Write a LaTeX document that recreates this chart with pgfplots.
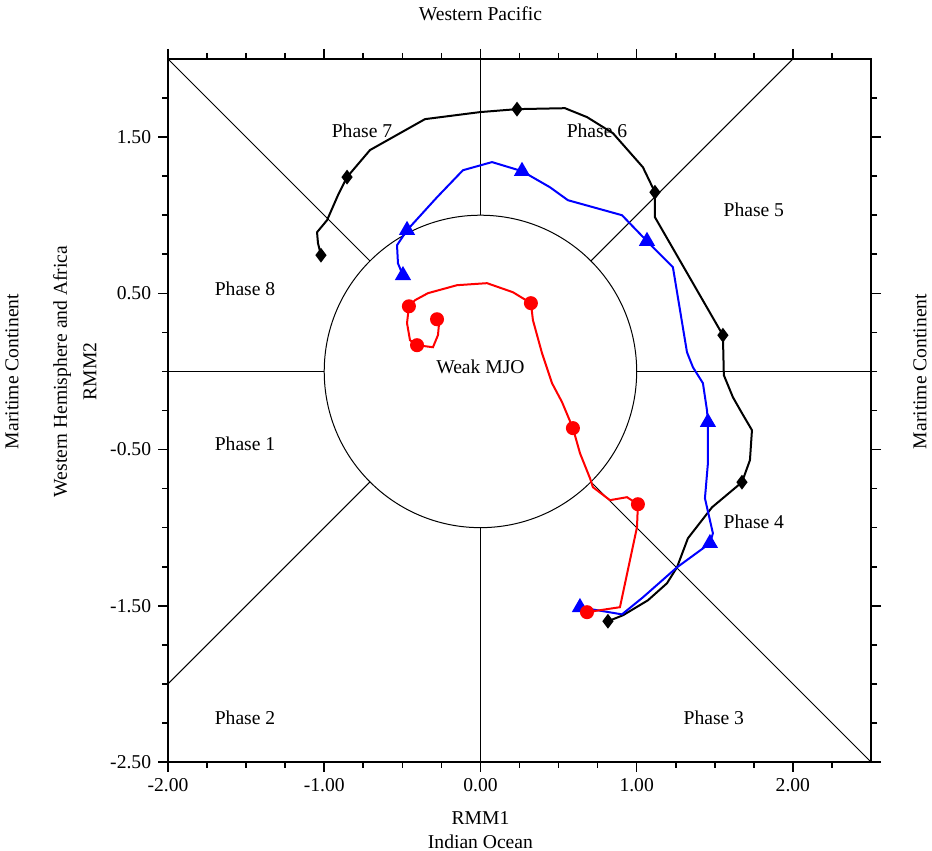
\documentclass[border=0pt]{standalone}
\usepackage{fontspec}
\setmainfont{Liberation Serif}
\usepackage{pgfplots}
\pgfplotsset{compat=1.18}
\begin{document}
\fontsize{9.8pt}{11.8pt}\selectfont
\begin{tikzpicture}
\begin{axis}[
  scale only axis, width=351.5pt, height=351.5pt,
  xmin=-2, xmax=2.5, ymin=-2.5, ymax=2,
  clip=false,
  axis line style={line width=0.8pt},
  tick align=outside,
  major tick length=5pt, minor tick length=3pt,
  every tick/.style={black, line width=0.8pt},
  xtick={-2,-1,0,1,2}, xticklabels={-2.00,-1.00,0.00,1.00,2.00},
  ytick={-2.5,-1.5,-0.5,0.5,1.5}, yticklabels={-2.50,-1.50,-0.50,0.50,1.50},
  minor xtick={-1.75,-1.5,-1.25,-0.75,-0.5,-0.25,0.25,0.5,0.75,1.25,1.5,1.75,2.25},
  minor ytick={-2.25,-2,-1.75,-1.25,-1,-0.75,-0.25,0,0.25,0.75,1,1.25,1.75},
  tick label style={font=\fontsize{9.8pt}{11.8pt}\selectfont},
]
% phase structure
\draw[line width=0.5pt] (axis cs:0,0) circle [radius=1];
\draw[line width=0.5pt] (axis cs:-2,0) -- (axis cs:-1,0);
\draw[line width=0.5pt] (axis cs:1,0) -- (axis cs:2.5,0);
\draw[line width=0.5pt] (axis cs:0,1) -- (axis cs:0,2);
\draw[line width=0.5pt] (axis cs:0,-1) -- (axis cs:0,-2.5);
\draw[line width=0.5pt] (axis cs:-2,2) -- (axis cs:-0.7071,0.7071);
\draw[line width=0.5pt] (axis cs:2,2) -- (axis cs:0.7071,0.7071);
\draw[line width=0.5pt] (axis cs:-2,-2) -- (axis cs:-0.7071,-0.7071);
\draw[line width=0.5pt] (axis cs:0.7071,-0.7071) -- (axis cs:2.5,-2.5);
% phase labels
\node at (axis cs:-0.758,1.538) {Phase 7};
\node at (axis cs:0.746,1.538) {Phase 6};
\node at (axis cs:1.750,1.032) {Phase 5};
\node at (axis cs:-1.507,0.532) {Phase 8};
\node at (axis cs:-1.507,-0.466) {Phase 1};
\node at (axis cs:1.750,-0.96) {Phase 4};
\node at (axis cs:-1.507,-2.214) {Phase 2};
\node at (axis cs:1.494,-2.214) {Phase 3};
\node at (axis cs:0,0.03) {Weak MJO};
% outer labels
\node at ([yshift=22.5pt]axis cs:0,2) {Western Pacific};
\node at ([yshift=-28pt]axis cs:0,-2.5) {RMM1};
\node at ([yshift=-40pt]axis cs:0,-2.5) {Indian Ocean};
\node[rotate=90] at ([xshift=-39pt]axis cs:-2,0) {RMM2};
\node[rotate=90] at ([xshift=-53pt]axis cs:-2,0) {Western Hemisphere and Africa};
\node[rotate=90] at ([xshift=-78pt]axis cs:-2,0) {Maritime Continent};
\node[rotate=90] at ([xshift=24.5pt]axis cs:2.5,0) {Maritime Continent};
\coordinate (ll) at (axis cs:-2,-2.5);
\coordinate (ur) at (axis cs:2.5,2);
% black
\addplot[black, line width=1pt, mark=diamond*, mark size=2.9pt, mark indices={1,8,14,16,21,25,30}] coordinates {
(0.816,-1.599) (0.912,-1.561) (1.072,-1.465) (1.194,-1.356) (1.258,-1.254) (1.328,-1.068) (1.482,-0.870)
(1.674,-0.709) (1.725,-0.568) (1.738,-0.376) (1.674,-0.267) (1.616,-0.165) (1.558,-0.024)
(1.552,0.232) (1.117,0.987) (1.117,1.147) (1.040,1.307) (0.848,1.525) (0.682,1.628) (0.541,1.685)
(0.234,1.679) (-0.003,1.660) (-0.355,1.615) (-0.707,1.417) (-0.854,1.244) (-0.912,1.128)
(-0.982,0.968) (-1.046,0.891) (-1.040,0.821) (-1.021,0.744)
};
% blue
\addplot[blue, line width=1pt, mark=triangle*, mark size=3.7pt, mark indices={1,5,10,16,20,24,27}] coordinates {
(0.637,-1.510) (0.906,-1.555) (1.040,-1.446) (1.258,-1.254) (1.469,-1.100) (1.488,-1.036) (1.469,-0.953)
(1.437,-0.812) (1.456,-0.588) (1.456,-0.325) (1.450,-0.248) (1.424,-0.075) (1.360,0.027) (1.322,0.123)
(1.232,0.667) (1.066,0.834) (0.906,1.000) (0.560,1.096) (0.445,1.179) (0.266,1.282) (0.074,1.340)
(-0.112,1.288) (-0.278,1.115) (-0.470,0.904) (-0.534,0.808) (-0.528,0.692) (-0.496,0.615)
};
% red
\addplot[red, line width=1pt, mark=*, mark size=3pt, mark indices={1,5,8,14,19,25,28}] coordinates {
(-0.278,0.334) (-0.266,0.296) (-0.272,0.232) (-0.304,0.155) (-0.406,0.168) (-0.451,0.200) (-0.470,0.309)
(-0.458,0.417) (-0.419,0.456) (-0.336,0.501) (-0.150,0.552) (0.042,0.565) (0.208,0.507) (0.323,0.437)
(0.336,0.328) (0.394,0.117) (0.458,-0.075) (0.522,-0.196) (0.592,-0.363) (0.637,-0.523) (0.701,-0.683)
(0.720,-0.741) (0.829,-0.824) (0.938,-0.805) (1.008,-0.850) (1.002,-0.997) (0.893,-1.509) (0.682,-1.541)
};
\end{axis}
\pgfresetboundingbox
\path ([shift={(-84pt,-44.5pt)}]ll) rectangle ([shift={(30.5pt,29.5pt)}]ur);
\end{tikzpicture}
\end{document}
